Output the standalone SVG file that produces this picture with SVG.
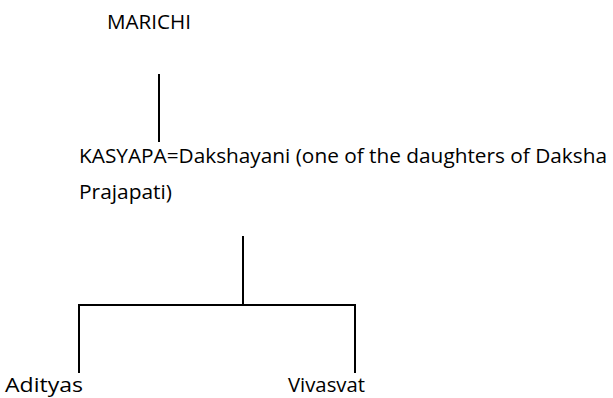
<svg xmlns="http://www.w3.org/2000/svg" width="613" height="398" viewBox="0 0 613 398">
<style>
.t{font-family:"Open Sans","Liberation Sans",sans-serif;font-size:20px;fill:#000}
.c{stroke:#000;stroke-width:2;fill:none}
</style>
<rect width="613" height="398" fill="#fff"/>
<g id="connectors">
<line class="c" x1="159" y1="74" x2="159" y2="142"/>
<line class="c" x1="243" y1="236" x2="243" y2="305"/>
<polyline class="c" points="79,373 79,305 355,305 355,373"/>
</g>
<g id="marichi"><text class="t" x="107" y="29" textLength="84" lengthAdjust="spacingAndGlyphs">MARICHI</text></g>
<g id="kasyapa">
<text class="t" x="79" y="163" textLength="528" lengthAdjust="spacingAndGlyphs">KASYAPA=Dakshayani (one of the daughters of Daksha</text>
<text class="t" x="79" y="199" textLength="93" lengthAdjust="spacingAndGlyphs">Prajapati)</text>
</g>
<g id="adityas"><text class="t" x="5" y="392" textLength="78" lengthAdjust="spacingAndGlyphs">Adityas</text></g>
<g id="vivasvat"><text class="t" x="288" y="392" textLength="77" lengthAdjust="spacingAndGlyphs">Vivasvat</text></g>
</svg>
